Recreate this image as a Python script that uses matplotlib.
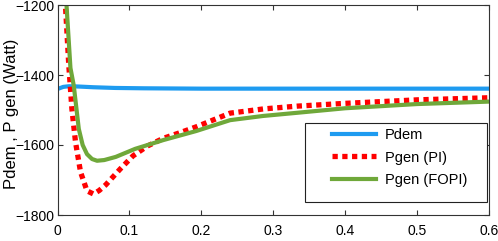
import matplotlib
matplotlib.use('Agg')
import matplotlib.pyplot as plt
from matplotlib.patches import Rectangle

plt.rcParams['font.family'] = ['Liberation Sans', 'DejaVu Sans']

# ── Data ──────────────────────────────────────────────────────────────────────
t_dem = [0.0, 0.008, 0.016, 0.03, 0.05, 0.08, 0.12, 0.2, 0.3, 0.4, 0.5, 0.6]
p_dem = [-1440, -1434, -1432, -1433, -1435, -1437, -1438, -1439, -1439, -1439, -1439, -1439]

t_pi = [0.006, 0.011, 0.0157, 0.020, 0.025, 0.032, 0.041, 0.050, 0.058, 0.067,
        0.087, 0.105, 0.125, 0.147, 0.17, 0.193, 0.24, 0.286, 0.333, 0.4, 0.5, 0.6]
p_pi = [-1100, -1200, -1373, -1497, -1591, -1677, -1731, -1740, -1730, -1714,
        -1669, -1631, -1603, -1581, -1565, -1548, -1509, -1497, -1489, -1481, -1471, -1465]

t_fopi = [0.010, 0.0125, 0.018, 0.0226, 0.0296, 0.035, 0.041, 0.048, 0.055, 0.065,
          0.081, 0.108, 0.13, 0.147, 0.17, 0.193, 0.24, 0.286, 0.333, 0.4, 0.5, 0.6]
p_fopi = [-1100, -1200, -1380, -1430, -1554, -1600, -1626, -1640, -1645, -1643,
          -1634, -1611, -1597, -1586, -1573, -1560, -1529, -1517, -1508, -1495, -1483, -1476]

labels = ['Pdem', 'Pgen (PI)', 'Pgen (FOPI)']
x_ticks = [0, 0.1, 0.2, 0.3, 0.4, 0.5, 0.6]
x_ticklabels = ['0', '0.1', '0.2', '0.3', '0.4', '0.5', '0.6']
y_ticks = [-1800, -1600, -1400, -1200]

# ── Plot ──────────────────────────────────────────────────────────────────────
W, H = 498, 241
fig = plt.figure(figsize=(W / 100, H / 100), dpi=100)
ax = fig.add_axes([57.5 / W, 1 - 215 / H, (489 - 57.5) / W, 210 / H])

ax.plot(t_dem, p_dem, '-', color='#1e9bf0', lw=3.0, label=labels[0])
ax.plot(t_pi, p_pi, linestyle=(0, (1, 0.85)), color='#ff0000', lw=3.8,
        label=labels[1])
ax.plot(t_fopi, p_fopi, '-', color='#6fa83a', lw=3.0, label=labels[2])

ax.set_xlim(0, 0.6)
ax.set_ylim(-1800, -1200)
ax.set_xticks(x_ticks)
ax.set_xticklabels(x_ticklabels)
ax.set_yticks(y_ticks)
ax.tick_params(direction='in', top=True, right=True, labelsize=10,
               length=3.5, width=0.8, color='#333333')
ax.tick_params(axis='x', pad=6.5)
ax.tick_params(axis='y', pad=2)
for s in ax.spines.values():
    s.set_color('#333333')
    s.set_linewidth(0.8)

ax.set_ylabel('Pdem , P gen (Watt)', fontsize=12)
ax.yaxis.set_label_coords(-0.0892, 0.483)

# legend: frame drawn separately so the padding matches the reference box
box = Rectangle((0.5736, 0.062), 0.4218, 0.376, transform=ax.transAxes,
                facecolor='white', edgecolor='#222222', lw=0.8, zorder=4)
ax.add_patch(box)
leg = ax.legend(loc='upper left', bbox_to_anchor=(0.636, 0.415),
                frameon=False, fontsize=10.5, borderpad=0, borderaxespad=0,
                handlelength=3.0, handletextpad=0.65, labelspacing=0.6)
leg.set_zorder(5)

fig.savefig('out.png', dpi=100)
